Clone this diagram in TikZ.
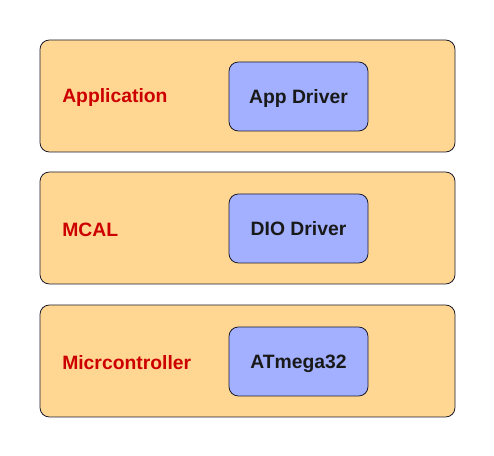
\documentclass[tikz,border=0pt]{standalone}
\usepackage{fontspec}
\setmainfont{Liberation Sans}
\usetikzlibrary{positioning}
\definecolor{layerfill}{HTML}{FFD792}
\definecolor{drvfill}{HTML}{A2B0FF}
\definecolor{edge}{HTML}{1A1A2E}
\definecolor{lblred}{HTML}{CC0000}
\tikzset{
	layer/.style={draw=edge,fill=layerfill,line width=0.6pt,rounded corners=7pt,minimum width=311.25pt,minimum height=84pt},
	drv/.style={draw=edge,fill=drvfill,line width=0.6pt,rounded corners=7pt,minimum width=104.25pt,minimum height=51.75pt,text depth=0pt,font=\fontsize{14.5}{17}\selectfont\bfseries,text=black!90},
	lbl/.style={anchor=west,inner sep=0pt,font=\fontsize{14.5}{17}\selectfont\bfseries,text=lblred}
}
\begin{document}
\begin{tikzpicture}[x=0.75pt,y=-0.75pt]
		\useasboundingbox (0,0) rectangle (494,456);
		\foreach \n/\y/\lbltext/\drvtext in {app/0/Application/App Driver,mcal/132/MCAL/DIO Driver,mcu/265/Micrcontroller/ATmega32}
		{
		\node[layer] (\n) at (247.5,96+\y) {};
		\node[lbl] (\n lbl) at (62,97.5+\y) {\lbltext};
		\node[drv] (\n drv) at (298.5,96.5+\y) {\drvtext};
		}
	\end{tikzpicture}
\end{document}
